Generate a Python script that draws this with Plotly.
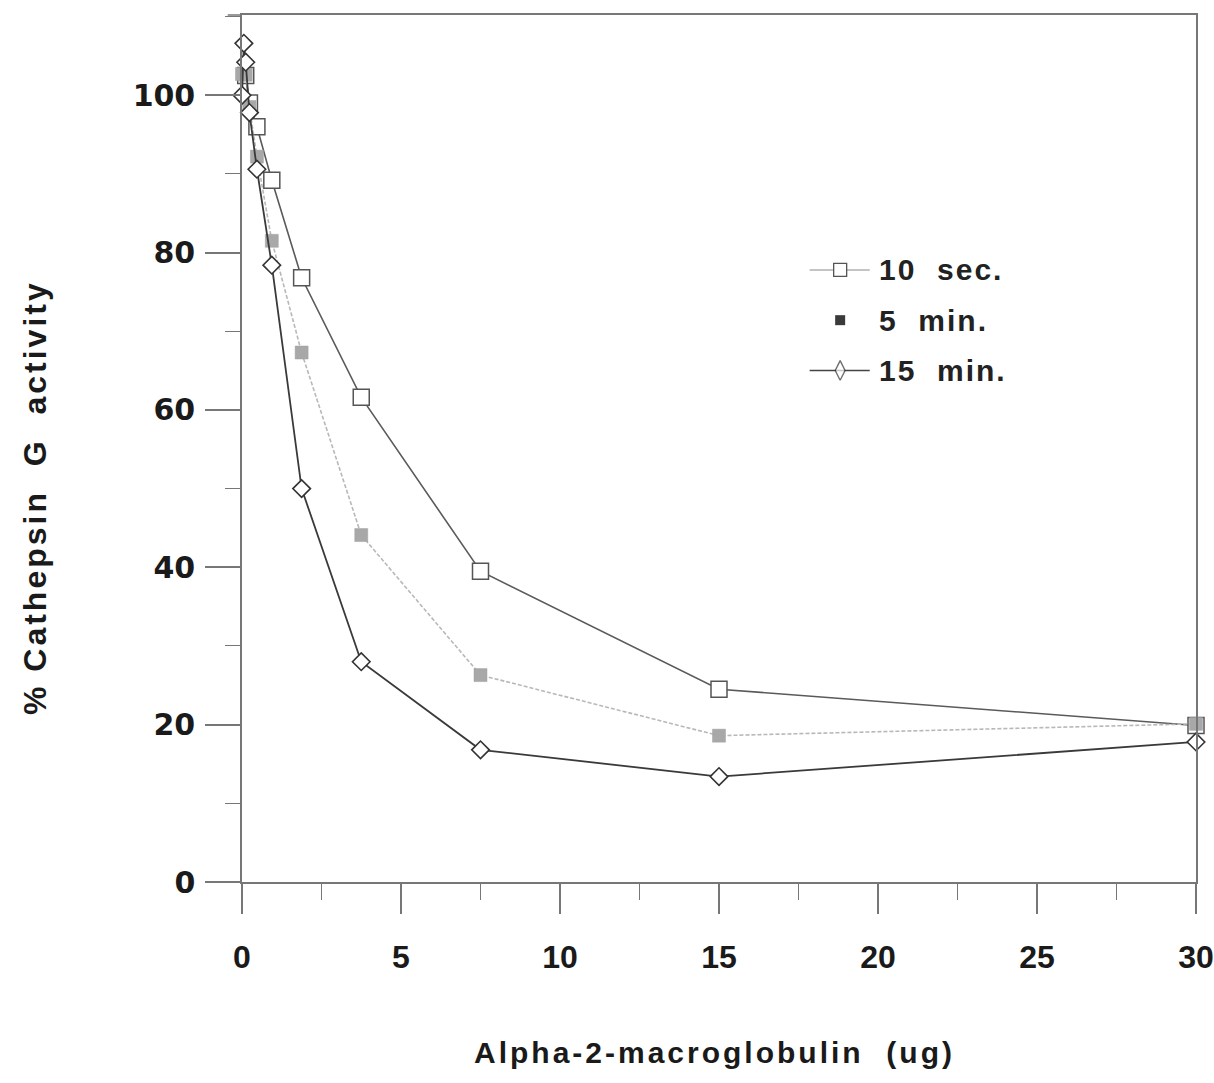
import plotly.graph_objects as go

# Alpha-2-macroglobulin amount (ug) and remaining cathepsin G activity (%)
dose_10s = [0.117, 0.234, 0.469, 0.9375, 1.875, 3.75, 7.5, 15, 30]
act_10s = [102.5, 99.0, 96.0, 89.2, 76.8, 61.6, 39.5, 24.5, 19.9]

dose_5m = [0, 0.117, 0.234, 0.469, 0.9375, 1.875, 3.75, 7.5, 15, 30]
act_5m = [102.7, 102.6, 98.5, 92.2, 81.5, 67.3, 44.1, 26.3, 18.6, 20.1]

dose_15m = [0, 0.0586, 0.117, 0.234, 0.469, 0.9375, 1.875, 3.75, 7.5, 15, 30]
act_15m = [100.0, 106.6, 104.2, 97.8, 90.6, 78.4, 50.0, 28.0, 16.8, 13.4, 17.8]

series_names = ["10\u00a0\u00a0sec.", "5\u00a0\u00a0min.", "15\u00a0\u00a0min."]
x_ticks = [0, 5, 10, 15, 20, 25, 30]
y_ticks = [0, 20, 40, 60, 80, 100]

AXIS = "#777777"
BOLD = "Liberation Sans"


def spaced(text, px):
    return f'<span style="letter-spacing:{px}px">{text}</span>'


fig = go.Figure()

fig.add_trace(go.Scatter(
    x=dose_10s, y=act_10s, mode="lines+markers", cliponaxis=False,
    line=dict(color="#5a5a5a", width=1.6),
    marker=dict(symbol="square", size=16, color="white",
                line=dict(color="#555555", width=1.5)),
    showlegend=False))

fig.add_trace(go.Scatter(
    x=dose_5m, y=act_5m, mode="lines+markers", cliponaxis=False,
    line=dict(color="#b8b8b8", width=1.6, dash="4px,2px"),
    marker=dict(symbol="square", size=13, color="#a8a8a8",
                line=dict(color="#a0a0a0", width=0.5)),
    showlegend=False))

fig.add_trace(go.Scatter(
    x=dose_15m, y=act_15m, mode="lines+markers", cliponaxis=False,
    line=dict(color="#3a3a3a", width=1.8),
    marker=dict(symbol="diamond", size=13.5, color="white",
                line=dict(color="#333333", width=1.6)),
    showlegend=False))

# Hand-built key on an overlay axis that spans the plot area (0..1)
key_rows = [0.706, 0.648, 0.590]
key_x0, key_xm, key_x1 = 0.595, 0.627, 0.658
fig.add_trace(go.Scatter(
    x=[key_x0, key_xm, key_x1], y=[key_rows[0]] * 3, mode="lines",
    line=dict(color="#c4c4c4", width=2), xaxis="x2", yaxis="y2",
    showlegend=False, hoverinfo="skip"))
fig.add_trace(go.Scatter(
    x=[key_xm], y=[key_rows[0]], mode="markers", xaxis="x2", yaxis="y2",
    marker=dict(symbol="square", size=13, color="white",
                line=dict(color="#555555", width=1.3)),
    showlegend=False, hoverinfo="skip"))
fig.add_trace(go.Scatter(
    x=[key_xm], y=[key_rows[1]], mode="markers", xaxis="x2", yaxis="y2",
    marker=dict(symbol="square", size=10, color="#3a3a3a"),
    showlegend=False, hoverinfo="skip"))
fig.add_trace(go.Scatter(
    x=[key_x0, key_xm, key_x1], y=[key_rows[2]] * 3, mode="lines+markers",
    line=dict(color="#444444", width=1.4), xaxis="x2", yaxis="y2",
    marker=dict(symbol="diamond-tall", size=[0, 14, 0], color="white",
                line=dict(color="#333333", width=1.4)),
    showlegend=False, hoverinfo="skip"))

for name, yrow in zip(series_names, key_rows):
    fig.add_annotation(x=0.666, y=yrow, xref="x2", yref="y2", text=spaced(name, 2),
                       showarrow=False, xanchor="left", yanchor="middle",
                       font=dict(family=BOLD, size=30, color="#222222", weight="bold"))

# Axis titles
fig.add_annotation(x=-0.217, y=0.444, xref="paper", yref="paper", showarrow=False,
                   text=spaced("% Cathepsin\u00a0 G\u00a0 activity", 3), textangle=-90,
                   font=dict(family=BOLD, size=32, color="#1a1a1a", weight="bold"),
                   xanchor="center", yanchor="middle")
fig.add_annotation(x=0.495, y=-0.197, xref="paper", yref="paper", showarrow=False,
                   text=spaced("Alpha-2-macroglobulin\u00a0 (ug)", 3),
                   font=dict(family=BOLD, size=30, color="#1a1a1a", weight="bold"),
                   xanchor="center", yanchor="middle")

fig.update_layout(
    width=1214, height=1083, autosize=False,
    margin=dict(l=242, r=18, t=15, b=201),
    paper_bgcolor="white", plot_bgcolor="white",
    xaxis=dict(range=[0, 30], tickvals=x_ticks, ticktext=[str(v) for v in x_ticks],
               ticks="outside", ticklen=30, tickwidth=1.5, tickcolor=AXIS,
               minor=dict(dtick=2.5, ticks="outside", ticklen=16, tickwidth=1.3,
                          tickcolor=AXIS),
               showline=True, linecolor=AXIS, linewidth=1.5, mirror=True,
               showgrid=False, zeroline=False, ticklabelstandoff=16,
               ticklabeloverflow="allow", automargin=False,
               tickfont=dict(family=BOLD, size=32, color="#1a1a1a", weight="bold")),
    yaxis=dict(range=[0, 110.2], tickvals=y_ticks, ticktext=[str(v) for v in y_ticks],
               ticks="outside", ticklen=35, tickwidth=1.5, tickcolor=AXIS,
               minor=dict(dtick=10, ticks="outside", ticklen=15, tickwidth=1.3,
                          tickcolor=AXIS),
               showline=True, linecolor=AXIS, linewidth=1.5, mirror=True,
               showgrid=False, zeroline=False, ticklabelstandoff=4,
               ticklabeloverflow="allow", automargin=False,
               tickfont=dict(family="DejaVu Sans", size=30, color="#1a1a1a", weight="bold")),
    xaxis2=dict(range=[0, 1], overlaying="x", anchor="y2", visible=False, fixedrange=True),
    yaxis2=dict(range=[0, 1], overlaying="y", anchor="x2", visible=False, fixedrange=True),
    shapes=[dict(type="line", xref="paper", yref="paper", x0=-0.015, x1=0, y0=1, y1=1,
                 line=dict(color=AXIS, width=1.5))],
)

fig.write_html("out.html")
